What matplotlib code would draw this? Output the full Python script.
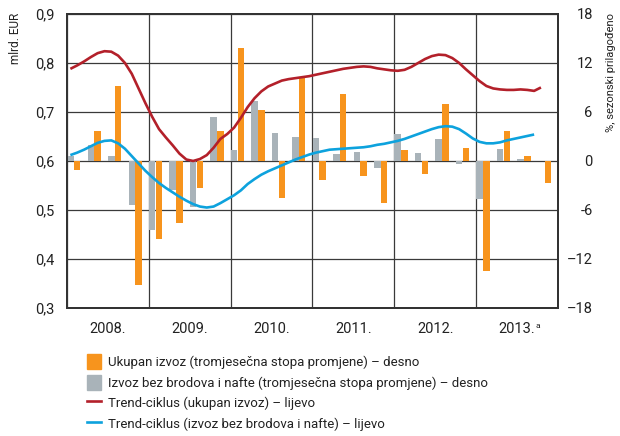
import matplotlib
matplotlib.use("Agg")
import matplotlib.pyplot as plt
from matplotlib.patches import Patch
from matplotlib.lines import Line2D
import numpy as np

plt.rcParams['font.family'] = ['Roboto', 'DejaVu Sans']

years = ['2008.', '2009.', '2010.', '2011.', '2012.', '2013.']

# quarterly rates of change (right axis, %)
ukupan_izvoz = [-1.1, 3.7, 9.2, -15.2, -9.6, -7.6, -3.35, 3.7,
                13.8, 6.2, -4.5, 10.1, -2.3, 8.2, -1.9, -5.1,
                1.35, -1.55, 7.0, 1.6, -13.5, 3.65, 0.6, -2.65]
bez_brodova = [0.6, 2.0, 0.6, -5.4, -8.45, -3.5, -5.6, 5.4,
               1.3, 7.35, 3.4, 2.9, 2.8, 0.8, 1.1, -0.9,
               3.3, 0.95, 2.75, -0.4, -4.6, 1.5, 0.2, 0.0]

# monthly trend-cycle (left axis, bn EUR), from Jan 2008
trend_ukupan = [0.788, 0.795, 0.803, 0.812, 0.820, 0.824, 0.823, 0.815, 0.800, 0.778,
                0.748, 0.718, 0.690, 0.665, 0.648, 0.632, 0.615, 0.603, 0.600, 0.604,
                0.612, 0.627, 0.645, 0.655, 0.668, 0.688, 0.710, 0.728, 0.742, 0.752,
                0.758, 0.764, 0.767, 0.769, 0.771, 0.773, 0.776, 0.779, 0.782, 0.785,
                0.788, 0.790, 0.792, 0.793, 0.792, 0.789, 0.787, 0.785, 0.784, 0.786,
                0.792, 0.800, 0.808, 0.814, 0.817, 0.816, 0.810, 0.800, 0.787, 0.775,
                0.763, 0.753, 0.748, 0.746, 0.745, 0.745, 0.746, 0.745, 0.743, 0.750]
trend_bez = [0.612, 0.617, 0.623, 0.630, 0.637, 0.641, 0.642, 0.636, 0.625, 0.610,
             0.595, 0.580, 0.567, 0.555, 0.545, 0.536, 0.527, 0.519, 0.512, 0.507,
             0.505, 0.507, 0.514, 0.522, 0.530, 0.540, 0.553, 0.563, 0.572, 0.579,
             0.585, 0.591, 0.597, 0.603, 0.608, 0.613, 0.617, 0.620, 0.623, 0.624,
             0.625, 0.626, 0.627, 0.628, 0.630, 0.633, 0.635, 0.638, 0.641, 0.645,
             0.650, 0.655, 0.660, 0.665, 0.669, 0.671, 0.670, 0.665, 0.656, 0.646,
             0.639, 0.636, 0.636, 0.638, 0.642, 0.645, 0.648, 0.651, 0.654]

left_ticks = [0.3, 0.4, 0.5, 0.6, 0.7, 0.8, 0.9]
left_labels = ['0,3', '0,4', '0,5', '0,6', '0,7', '0,8', '0,9']
right_ticks = [-18, -12, -6, 0, 6, 12, 18]
right_labels = ['\u201318', '\u201312', '-6', '0', '6', '12', '18']

C_OR = '#F7941D'
C_GR = '#A9B3B9'
C_RED = '#B3202A'
C_BLUE = '#0DA2DD'
C_AX = '#333333'
C_TXT = '#222222'

fig = plt.figure(figsize=(6.2, 4.36), dpi=100)
ax2 = fig.add_axes([0.108, 0.2936, 0.792, 0.6744])
ax = ax2.twinx()
ax.yaxis.tick_left()
ax.yaxis.set_label_position('left')
ax2.yaxis.tick_right()
ax2.yaxis.set_label_position('right')
ax.set_zorder(ax2.get_zorder() + 1)
ax.patch.set_visible(False)

q = np.arange(len(ukupan_izvoz))
ax2.bar(3 * q + 0.5, bez_brodova, width=0.95, color=C_GR, zorder=2)
ax2.bar(3 * q + 1.5, ukupan_izvoz, width=0.95, color=C_OR, zorder=2)
ax2.set_ylim(-18, 18)
ax2.set_yticks(right_ticks)
ax2.set_yticklabels(right_labels, ha='right')

ax.plot(np.arange(len(trend_ukupan)) + 0.5, trend_ukupan, color=C_RED, lw=1.9, solid_capstyle='butt')
ax.plot(np.arange(len(trend_bez)) + 0.5, trend_bez, color=C_BLUE, lw=1.9, solid_capstyle='butt')
ax.set_ylim(0.3, 0.9)
ax.set_yticks(left_ticks)
ax.set_yticklabels(left_labels)

ax2.set_xlim(0, 72)
ax.set_xlim(0, 72)
ax2.set_xticks(np.arange(0, 73, 12))
ax2.set_xticklabels([])
ax2.set_xticks(np.arange(6, 72, 12), minor=True)
ax2.set_xticklabels(years, minor=True)
ax2.tick_params(axis='x', which='both', length=0, pad=10, labelsize=10.5, colors=C_TXT)
ax2.tick_params(axis='y', length=0, pad=25, labelsize=10.5, colors=C_TXT)
ax.tick_params(axis='y', length=0, pad=9, labelsize=10.5, colors=C_TXT)
ax.tick_params(axis='x', length=0, labelbottom=False)

ax2.set_axisbelow(True)
ax2.grid(True, which='major', axis='both', color='#3a3a3a', lw=0.9)
for a in (ax, ax2):
    for s in a.spines.values():
        s.set_color(C_AX)
        s.set_linewidth(1.4)

fig.text(0.025, 0.97, 'mlrd. EUR', rotation=90, ha='center', va='top', fontsize=8.5, color=C_TXT)
fig.text(0.985, 0.97, '%, sezonski prilago\u0111eno', rotation=90, ha='center', va='top', fontsize=8, color=C_TXT)

# superscript "a" after 2013.
ax2.text(68.7, -0.05, 'a', transform=ax2.get_xaxis_transform(), fontsize=6, ha='left', va='top', color=C_TXT)

handles = [Patch(color=C_OR), Patch(color=C_GR),
           Line2D([], [], color=C_RED, lw=1.9), Line2D([], [], color=C_BLUE, lw=1.9)]
labels = ['Ukupan izvoz (tromjese\u010dna stopa promjene) \u2013 desno',
          'Izvoz bez brodova i nafte (tromjese\u010dna stopa promjene) \u2013 desno',
          'Trend-ciklus (ukupan izvoz) \u2013 lijevo',
          'Trend-ciklus (izvoz bez brodova i nafte) \u2013 lijevo']
fig.legend(handles, labels, loc='upper left', bbox_to_anchor=(0.14, 0.188), frameon=False,
           fontsize=9.5, handlelength=1.05, handleheight=1.35, handletextpad=0.55,
           labelspacing=0.45, borderpad=0, borderaxespad=0, labelcolor=C_TXT)

fig.savefig('out.png', dpi=100)
